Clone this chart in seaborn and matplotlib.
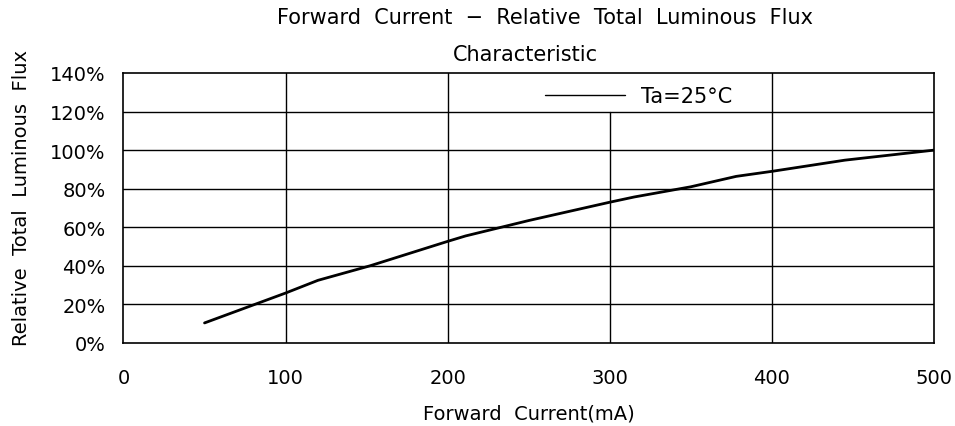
import matplotlib
matplotlib.use("Agg")
import matplotlib.pyplot as plt
import seaborn as sns
import pandas as pd

current_ma = [50, 100, 120, 152, 200, 211, 250, 300, 315, 350, 378, 400, 445, 500]
rel_flux = [10.4, 25.9, 32.5, 40.0, 52.7, 55.5, 63.5, 73.0, 75.7, 81.0, 86.4, 89.0, 94.8, 100.0]
x_ticks = [0, 100, 200, 300, 400, 500]
y_ticks = [0, 20, 40, 60, 80, 100, 120, 140]
y_tick_labels = ["0%", "20%", "40%", "60%", "80%", "100%", "120%", "140%"]

sns.set_style("white")
plt.rcParams["font.family"] = ["DejaVu Sans"]
plt.rcParams["text.color"] = "black"
plt.rcParams["axes.labelcolor"] = "black"
plt.rcParams["xtick.color"] = "black"
plt.rcParams["ytick.color"] = "black"

FS = 14

df = pd.DataFrame({"current": current_ma, "flux": rel_flux})

fig = plt.figure(figsize=(9.55, 4.27), dpi=100)
ax = fig.add_axes([0.1293, 0.1944, 0.8487, 0.6323])

# grid lines
for yv in y_ticks[1:-1]:
    ax.axhline(yv, color="black", lw=1.0, zorder=1)
for xv in x_ticks[1:-1]:
    top = 120 / 140 if xv == 300 else 1.0
    ax.axvline(xv, ymin=0, ymax=top, color="black", lw=1.0, zorder=1)

sns.lineplot(data=df, x="current", y="flux", ax=ax, color="black", lw=2.0,
             label="Ta=25°C", zorder=3)

ax.set_xlim(0, 500)
ax.set_ylim(0, 140)
ax.set_xticks(x_ticks)
ax.set_xticklabels([str(v) for v in x_ticks], fontsize=FS)
ax.set_yticks(y_ticks)
ax.set_yticklabels(y_tick_labels, fontsize=FS)
ax.tick_params(axis="x", length=0, pad=18)
ax.tick_params(axis="y", length=0, pad=13)
for s in ax.spines.values():
    s.set_color("black")
    s.set_linewidth(1.2)

ax.set_xlabel("Forward  Current(mA)", fontsize=FS, labelpad=12)
ax.set_ylabel("")
fig.text(0.023, 0.537, "Relative  Total  Luminous  Flux", rotation=90,
         fontsize=FS, ha="center", va="center")

fig.text(0.571, 0.957, "Forward  Current  −  Relative  Total  Luminous  Flux",
         fontsize=15, ha="center", va="center")
fig.text(0.55, 0.871, "Characteristic", fontsize=15, ha="center", va="center")

leg = ax.legend(loc="center left", bbox_to_anchor=(0.52, 0.915), frameon=False,
                handlelength=3.85, handletextpad=0.75, borderpad=0, borderaxespad=0,
                fontsize=15)
for h in leg.get_lines():
    h.set_linewidth(1.0)

fig.savefig("out.png", dpi=100)
